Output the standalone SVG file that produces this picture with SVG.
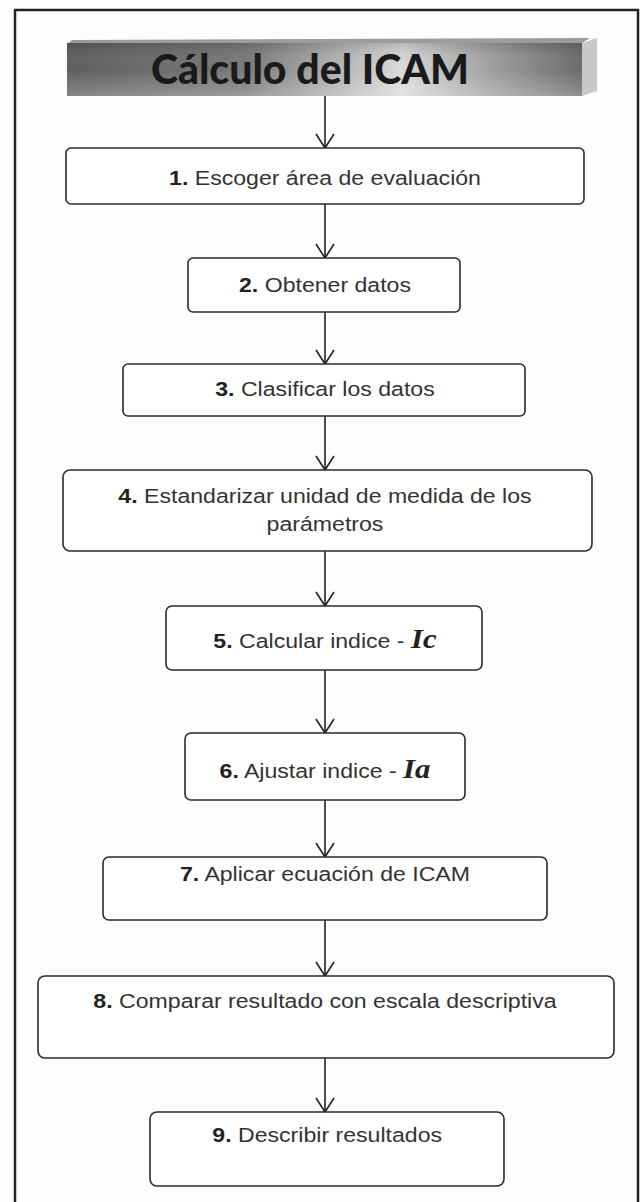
<svg xmlns="http://www.w3.org/2000/svg" width="640" height="1202" viewBox="0 0 640 1202">
<style>
.box{fill:#fff;stroke:#2a2a2a;stroke-width:1.6}
.t{font-family:"Liberation Sans",Arial,sans-serif;font-size:21px;fill:#333;text-anchor:middle}
.n{font-weight:bold;fill:#222}
.m{font-family:"Liberation Serif","Times New Roman",serif;font-style:italic;font-weight:bold;font-size:28px;fill:#222}
.c{stroke:#222;stroke-width:1.6;fill:none}
</style>
<defs>
<linearGradient id="front" x1="0" y1="0" x2="1" y2="0">
<stop offset="0" stop-color="#5e5e5e"/>
<stop offset="0.35" stop-color="#7a7a7a"/>
<stop offset="0.65" stop-color="#dadada"/>
<stop offset="0.82" stop-color="#a0a0a0"/>
<stop offset="1" stop-color="#6a6a6a"/>
</linearGradient>
<linearGradient id="shade" x1="0" y1="0" x2="0" y2="1">
<stop offset="0" stop-color="#000" stop-opacity="0.15"/>
<stop offset="0.5" stop-color="#fff" stop-opacity="0"/>
<stop offset="1" stop-color="#fff" stop-opacity="0.25"/>
</linearGradient>
<marker id="arr" markerWidth="20" markerHeight="18" refX="10" refY="16" orient="0" markerUnits="userSpaceOnUse">
<path d="M1,2 L10,16 L19,2" fill="none" stroke="#222" stroke-width="1.6"/>
</marker>
</defs>
<rect x="0" y="0" width="640" height="1202" fill="#fdfdfd"/>
<rect x="15" y="10" width="623" height="1200" fill="none" stroke="#222" stroke-width="2.5"/>

<g id="title">
<polygon points="67,44 72,40 590,38 582,43" fill="#9c9c9c"/>
<polygon points="582,43 597,38 597,91 582,96" fill="#c8c8c8"/>
<rect x="67" y="43" width="515" height="53" fill="url(#front)"/>
<rect x="67" y="43" width="515" height="53" fill="url(#shade)"/>
<text x="310" y="84" style="font-family:Lato,'Open Sans',sans-serif;font-weight:900;font-size:41px;fill:#1a1a1a;text-anchor:middle">Cálculo del ICAM</text>
</g>

<g id="connectors">
<line class="c" x1="325" y1="96" x2="325" y2="148" marker-end="url(#arr)"/>
<line class="c" x1="325" y1="204" x2="325" y2="258" marker-end="url(#arr)"/>
<line class="c" x1="325" y1="312" x2="325" y2="364" marker-end="url(#arr)"/>
<line class="c" x1="325" y1="416" x2="325" y2="470" marker-end="url(#arr)"/>
<line class="c" x1="325" y1="551" x2="325" y2="606" marker-end="url(#arr)"/>
<line class="c" x1="325" y1="670" x2="325" y2="733" marker-end="url(#arr)"/>
<line class="c" x1="325" y1="800" x2="325" y2="857" marker-end="url(#arr)"/>
<line class="c" x1="325" y1="920" x2="325" y2="976" marker-end="url(#arr)"/>
<line class="c" x1="325" y1="1058" x2="325" y2="1112" marker-end="url(#arr)"/>
</g>

<g id="n1"><rect class="box" x="66" y="148" width="518" height="56" rx="5"/>
<text class="t" x="325" y="185" transform="matrix(1.1,0,0,1,-32.5,0)"><tspan class="n">1.</tspan> Escoger área de evaluación</text></g>
<g id="n2"><rect class="box" x="188" y="258" width="272" height="54" rx="5"/>
<text class="t" x="325" y="292" transform="matrix(1.1,0,0,1,-32.5,0)"><tspan class="n">2.</tspan> Obtener datos</text></g>
<g id="n3"><rect class="box" x="123" y="364" width="402" height="52" rx="5"/>
<text class="t" x="325" y="396" transform="matrix(1.1,0,0,1,-32.5,0)"><tspan class="n">3.</tspan> Clasificar los datos</text></g>
<g id="n4"><rect class="box" x="63" y="470" width="529" height="81" rx="7"/>
<text class="t" x="325" y="503" transform="matrix(1.1,0,0,1,-32.5,0)"><tspan class="n">4.</tspan> Estandarizar unidad de medida de los</text>
<text class="t" x="325" y="531" transform="matrix(1.1,0,0,1,-32.5,0)">parámetros</text></g>
<g id="n5"><rect class="box" x="166" y="606" width="316" height="64" rx="6"/>
<text class="t" x="325" y="648" transform="matrix(1.1,0,0,1,-32.5,0)"><tspan class="n">5.</tspan> Calcular indice -  <tspan class="m">Ic</tspan></text></g>
<g id="n6"><rect class="box" x="185" y="733" width="280" height="67" rx="6"/>
<text class="t" x="325" y="778" transform="matrix(1.1,0,0,1,-32.5,0)"><tspan class="n">6.</tspan> Ajustar indice - <tspan class="m">Ia</tspan></text></g>
<g id="n7"><rect class="box" x="103" y="857" width="444" height="63" rx="6"/>
<text class="t" x="325" y="881" transform="matrix(1.1,0,0,1,-32.5,0)"><tspan class="n">7.</tspan> Aplicar ecuación de ICAM</text></g>
<g id="n8"><rect class="box" x="38" y="976" width="576" height="82" rx="7"/>
<text class="t" x="325" y="1008" transform="matrix(1.1,0,0,1,-32.5,0)"><tspan class="n">8.</tspan> Comparar resultado con escala descriptiva</text></g>
<g id="n9"><rect class="box" x="150" y="1112" width="354" height="74" rx="7"/>
<text class="t" x="327" y="1142" transform="matrix(1.1,0,0,1,-32.5,0)"><tspan class="n">9.</tspan> Describir resultados</text></g>
</svg>
